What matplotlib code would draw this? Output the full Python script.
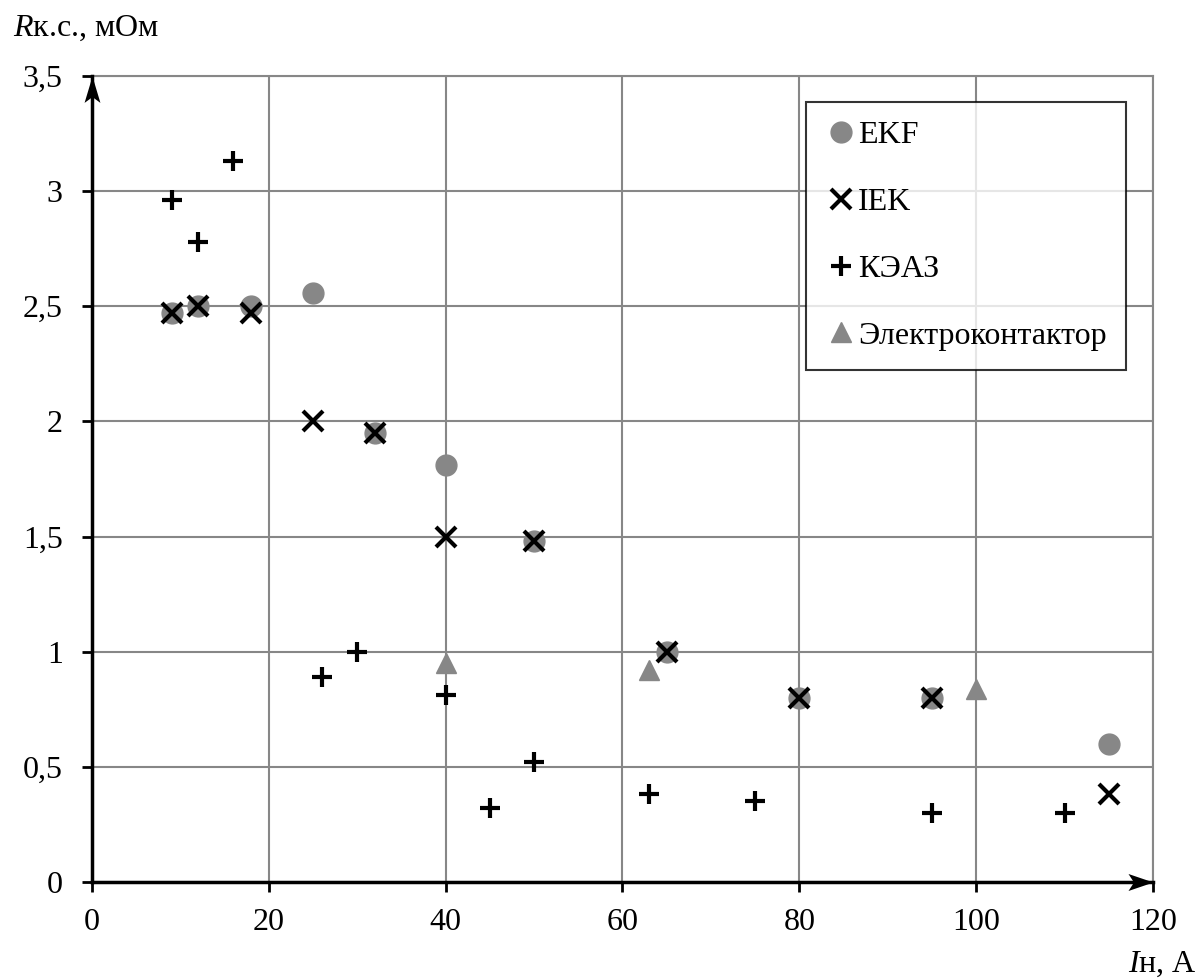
import matplotlib.pyplot as plt
from matplotlib.ticker import FuncFormatter
from matplotlib.path import Path

plt.rcParams['font.family'] = ['Liberation Serif', 'DejaVu Serif']
plt.rcParams['mathtext.fontset'] = 'custom'
plt.rcParams['mathtext.it'] = 'Liberation Serif:italic'
plt.rcParams['mathtext.rm'] = 'Liberation Serif'

# EKF
ekf_x = [9, 12, 18, 25, 32, 40, 50, 65, 80, 95, 115]
ekf_y = [2.47, 2.50, 2.50, 2.56, 1.95, 1.81, 1.48, 1.00, 0.80, 0.80, 0.60]

# IEK
iek_x = [9, 12, 18, 25, 32, 40, 50, 65, 80, 95, 115]
iek_y = [2.47, 2.50, 2.47, 2.00, 1.95, 1.50, 1.48, 1.00, 0.80, 0.80, 0.38]

# КЭАЗ
keaz_x = [9, 12, 16, 26, 30, 40, 45, 50, 63, 75, 95, 110]
keaz_y = [2.96, 2.78, 3.13, 0.89, 1.00, 0.81, 0.32, 0.52, 0.38, 0.35, 0.30, 0.30]

# Электроконтактор
ek_x = [40, 63, 100]
ek_y = [0.95, 0.92, 0.84]

x_ticks = [0, 20, 40, 60, 80, 100, 120]
y_ticks = [0, 0.5, 1, 1.5, 2, 2.5, 3, 3.5]

fs = 23

fig = plt.figure(figsize=(12.01, 9.8), dpi=100)
ax = fig.add_axes([0.0766, 0.1, 0.8834, 0.8224])

gray = '#878787'
ax.plot(ekf_x, ekf_y, 'o', color=gray, markersize=15, label='EKF', zorder=3)
ax.plot(iek_x, iek_y, 'x', color='black', markersize=14, mew=3, label='IEK', zorder=4)
ax.plot(keaz_x, keaz_y, '+', color='black', markersize=14, mew=3, label='КЭАЗ', zorder=4)
ax.plot(ek_x, ek_y, '^', color=gray, markersize=15, label='Электроконтактор', zorder=3)

ax.set_xlim(0, 120)
ax.set_ylim(0, 3.5)
ax.set_xticks(x_ticks)
ax.set_yticks(y_ticks)
ax.yaxis.set_major_formatter(FuncFormatter(lambda v, p: ('%g' % v).replace('.', ',')))
ax.tick_params(labelsize=fs, direction='out', length=7, width=2)
ax.tick_params(axis='x', pad=12)
ax.tick_params(axis='y', pad=14)

ax.grid(True, color=gray, linewidth=1.5)
ax.set_axisbelow(True)
for s in ['top', 'right']:
    ax.spines[s].set_color(gray)
    ax.spines[s].set_linewidth(1.5)
for s in ['left', 'bottom']:
    ax.spines[s].set_linewidth(2.5)
    ax.spines[s].set_zorder(5)

# стрелки осей (наконечник с выемкой)
head_r = Path([(0, 0), (-1, 0.34), (-0.78, 0), (-1, -0.34), (0, 0)],
              [Path.MOVETO, Path.LINETO, Path.LINETO, Path.LINETO, Path.CLOSEPOLY])
head_u = Path([(0, 0), (0.3, -1), (0, -0.78), (-0.3, -1), (0, 0)],
              [Path.MOVETO, Path.LINETO, Path.LINETO, Path.LINETO, Path.CLOSEPOLY])
ax.plot([1], [0], marker=head_r, markersize=36, color='black', mew=0,
        transform=ax.transAxes, clip_on=False, zorder=6)
ax.plot([0], [1], marker=head_u, markersize=38, color='black', mew=0,
        transform=ax.transAxes, clip_on=False, zorder=6)

fig.text(0.011, 0.9633, r'$\mathit{R}$к.с., мОм', fontsize=fs, va='baseline', ha='left')
fig.text(0.9967, 0.0082, r'$\mathit{I}$н, А', fontsize=fs, va='baseline', ha='right')

leg = ax.legend(loc='upper right', bbox_to_anchor=(0.9746, 0.968), borderaxespad=0,
                fontsize=fs, frameon=True, fancybox=False, edgecolor='black',
                handlelength=1.0, handletextpad=0.05, labelspacing=1.17,
                borderpad=0.6, numpoints=1)
leg.get_frame().set_linewidth(1.5)
leg.set_zorder(10)

plt.savefig('out.png', dpi=100)
